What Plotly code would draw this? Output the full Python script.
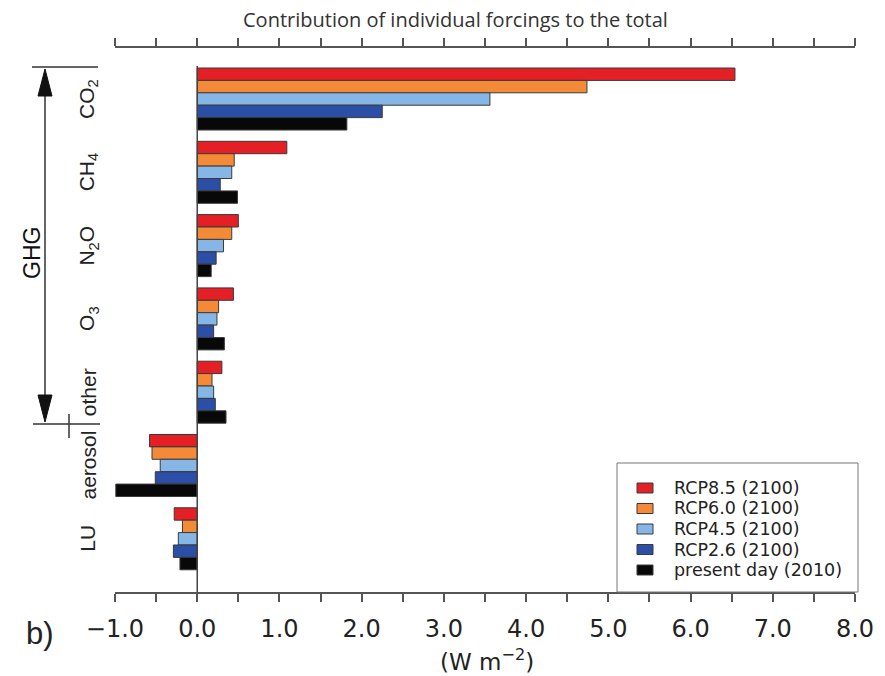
import plotly.graph_objects as go

# Radiative forcing contributions (W m-2) by agent
categories = ["CO<sub>2</sub>", "CH<sub>4</sub>", "N<sub>2</sub>O", "O<sub>3</sub>", "other", "aerosol", "LU"]
series_names = ["RCP8.5 (2100)", "RCP6.0 (2100)", "RCP4.5 (2100)", "RCP2.6 (2100)", "present day (2010)"]
rcp85 = [6.54, 1.09, 0.50, 0.44, 0.30, -0.58, -0.28]
rcp60 = [4.74, 0.45, 0.42, 0.26, 0.18, -0.55, -0.18]
rcp45 = [3.56, 0.42, 0.32, 0.24, 0.20, -0.45, -0.23]
rcp26 = [2.25, 0.28, 0.23, 0.20, 0.22, -0.51, -0.29]
present = [1.82, 0.49, 0.17, 0.33, 0.35, -0.99, -0.21]
colors = ["#e41f26", "#f48a38", "#86b6e6", "#2b4ea6", "#080808"]

W, H = 885, 676
ML, MR, MT, MB = 115, 30, 48, 84
PW, PH = W - ML - MR, H - MT - MB


def px(x):
    return (x - ML) / PW


def py(y):
    return (H - MB - y) / PH


positions = list(range(len(categories)))

fig = go.Figure()
for name, vals, col in zip(series_names, [rcp85, rcp60, rcp45, rcp26, present], colors):
    fig.add_trace(go.Bar(
        x=vals, y=positions, orientation="h", name=name,
        marker=dict(color=col, line=dict(color="#3a3a3a", width=1)),
    ))

annotations = []
# Category labels along the left
for pos, cat in zip(positions, categories):
    annotations.append(dict(
        x=px(88), xref="paper", y=pos, yref="y", text=cat, textangle=-90,
        showarrow=False, xanchor="center", yanchor="middle",
        font=dict(family="Liberation Sans, Arial", size=21, color="#222"),
    ))
annotations += [
    dict(x=px(32), y=py(253), xref="paper", yref="paper", text="GHG", textangle=-90,
         showarrow=False, xanchor="center", yanchor="middle",
         font=dict(family="Liberation Sans, Arial", size=23, color="#111")),
    dict(x=px(455), y=py(19), xref="paper", yref="paper",
         text="Contribution of individual forcings to the total", showarrow=False,
         xanchor="center", yanchor="middle",
         font=dict(family="Open Sans", size=20, color="#333")),
    dict(x=px(487), y=py(660), xref="paper", yref="paper", text="(W m<sup>−2</sup>)",
         showarrow=False, xanchor="center", yanchor="middle",
         font=dict(family="DejaVu Sans", size=23, color="#222")),
    dict(x=px(40), y=py(633), xref="paper", yref="paper", text="b)", showarrow=False,
         xanchor="center", yanchor="middle",
         font=dict(family="Liberation Sans, Arial", size=31, color="#222")),
]

line_style = dict(color="#333", width=1.5)
shapes = [
    # zero reference line
    dict(type="line", xref="x", yref="y", x0=0, x1=0, y0=-0.45, y1=6.726,
         line=dict(color="#444", width=1.5)),
    # GHG bracket
    dict(type="line", xref="paper", yref="paper", x0=px(32), x1=px(98), y0=py(67), y1=py(67), line=line_style),
    dict(type="line", xref="paper", yref="paper", x0=px(33), x1=px(100), y0=py(424), y1=py(424), line=line_style),
    dict(type="line", xref="paper", yref="paper", x0=px(45), x1=px(45), y0=py(90), y1=py(400), line=line_style),
    dict(type="line", xref="paper", yref="paper", x0=px(69), x1=px(69), y0=py(414), y1=py(438), line=line_style),
    dict(type="path", xref="paper", yref="paper", fillcolor="#111", line=dict(color="#111", width=1),
         path=f"M {px(45)} {py(69)} L {px(38)} {py(96)} L {px(52)} {py(96)} Z"),
    dict(type="path", xref="paper", yref="paper", fillcolor="#111", line=dict(color="#111", width=1),
         path=f"M {px(45)} {py(422)} L {px(38)} {py(395)} L {px(52)} {py(395)} Z"),
    # legend frame
    dict(type="rect", xref="paper", yref="paper", x0=px(617), x1=px(858), y0=py(592), y1=py(463),
         fillcolor="white", line=dict(color="#777", width=1), layer="above"),
]

# Legend entries: colour key and label per scenario
row_y = [488, 508.5, 529, 549.5, 570]
for name, col, yy in zip(series_names, colors, row_y):
    shapes.append(dict(type="rect", xref="paper", yref="paper",
                       x0=px(637), x1=px(653), y0=py(yy + 5), y1=py(yy - 5),
                       fillcolor=col, line=dict(color="#3a3a3a", width=1), layer="above"))
    annotations.append(dict(x=px(672), y=py(yy), xref="paper", yref="paper", text=name,
                            showarrow=False, xanchor="left", yanchor="middle",
                            font=dict(family="DejaVu Sans", size=17.5, color="#222")))

fig.update_layout(
    width=W, height=H, margin=dict(l=ML, r=MR, t=MT, b=MB),
    paper_bgcolor="white", plot_bgcolor="white",
    barmode="group", bargap=0.154, bargroupgap=0,
    showlegend=False,
    xaxis=dict(
        range=[-1, 8], dtick=1, tick0=0, tickformat=".1f",
        showgrid=False, zeroline=False, showline=True, linecolor="#555", linewidth=1.5,
        mirror="ticks", ticks="outside", ticklen=8, tickcolor="#555", tickwidth=1.5,
        ticklabelstandoff=6,
        minor=dict(dtick=0.5, ticks="outside", ticklen=8, tickcolor="#555", tickwidth=1.5, showgrid=False),
        tickfont=dict(family="DejaVu Sans", size=24, color="#222"),
    ),
    yaxis=dict(
        range=[6.726, -0.696], showticklabels=False, showgrid=False, zeroline=False,
        showline=False, ticks="",
    ),
    annotations=annotations,
    shapes=shapes,
)

fig.write_html("out.html")
